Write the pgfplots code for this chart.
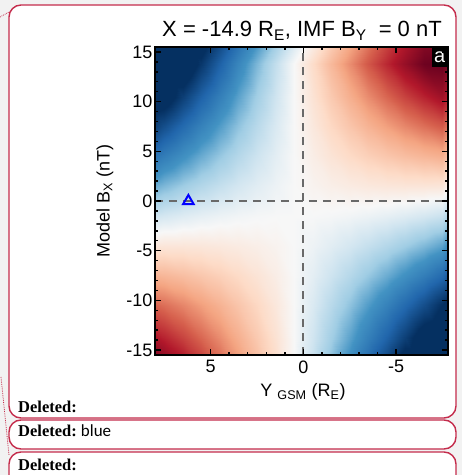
\documentclass[border=0pt]{standalone}
\usepackage{pgfplots}
\pgfplotsset{compat=1.18}
\usepackage{pgfplotstable}
\usepackage{fontspec}
\setmainfont{Liberation Sans}
\newfontfamily\docserif{Liberation Serif}
\newfontfamily\docsans{Carlito}

\definecolor{trackred}{RGB}{196,44,76}
\definecolor{pagegray}{RGB}{242,242,242}
\definecolor{refline}{RGB}{105,105,105}

% diverging red-white-blue colour table
\pgfplotsset{
  colormap={rdbu}{rgb255(0cm)=(103,0,31) rgb255(1.2cm)=(178,24,43) rgb255(2.2cm)=(214,96,77)
    rgb255(3.1cm)=(244,165,130) rgb255(4.2cm)=(253,219,199) rgb255(5cm)=(247,247,247)
    rgb255(5.6cm)=(209,229,240) rgb255(6.3cm)=(160,205,228) rgb255(7.1cm)=(67,147,195)
    rgb255(8.2cm)=(33,102,172) rgb255(9.3cm)=(5,48,97) rgb255(10cm)=(5,48,97)}
}

% Model B_x field on a Y_GSM x B_x grid (Y, Bx, value); colour scale saturates at +-100
\pgfplotstableread{
Y Bx f
8 -15.5 -100
7 -15.5 -97.7
6 -15.5 -85.1
5 -15.5 -72
4 -15.5 -58.5
3 -15.5 -44.5
2 -15.5 -30.1
1 -15.5 -15.3
0 -15.5 0
-1 -15.5 15.7
-2 -15.5 31.9
-3 -15.5 48.5
-4 -15.5 65.5
-5 -15.5 83
-6 -15.5 100
-7 -15.5 100
-8 -15.5 100
8 -12 -81.9
7 -12 -73.2
6 -12 -64.1
5 -12 -54.5
4 -12 -44.5
3 -12 -34
2 -12 -23.1
1 -12 -11.8
0 -12 0
-1 -12 12.2
-2 -12 24.9
-3 -12 38
-4 -12 51.5
-5 -12 65.5
-6 -12 79.9
-7 -12 94.8
-8 -12 100
8 -9 -57.9
7 -9 -52.2
6 -9 -46.1
5 -9 -39.5
4 -9 -32.5
3 -9 -25
2 -9 -17.1
1 -9 -8.8
0 -9 0
-1 -9 9.2
-2 -9 18.9
-3 -9 29
-4 -9 39.5
-5 -9 50.5
-6 -9 61.9
-7 -9 73.8
-8 -9 86.1
8 -6 -33.9
7 -6 -31.2
6 -6 -28.1
5 -6 -24.5
4 -6 -20.5
3 -6 -16
2 -6 -11.1
1 -6 -5.8
0 -6 0
-1 -6 6.2
-2 -6 12.9
-3 -6 20
-4 -6 27.5
-5 -6 35.5
-6 -6 43.9
-7 -6 52.8
-8 -6 62.1
8 -3 -9.9
7 -3 -10.2
6 -3 -10.1
5 -3 -9.5
4 -3 -8.5
3 -3 -7
2 -3 -5.1
1 -3 -2.8
0 -3 0
-1 -3 3.2
-2 -3 6.9
-3 -3 11
-4 -3 15.5
-5 -3 20.5
-6 -3 25.9
-7 -3 31.8
-8 -3 38.1
8 0 14.1
7 0 10.8
6 0 7.9
5 0 5.5
4 0 3.5
3 0 2
2 0 0.9
1 0 0.2
0 0 0
-1 0 0.2
-2 0 0.9
-3 0 2
-4 0 3.5
-5 0 5.5
-6 0 7.9
-7 0 10.8
-8 0 14.1
8 3 38.1
7 3 31.8
6 3 25.9
5 3 20.5
4 3 15.5
3 3 11
2 3 6.9
1 3 3.2
0 3 0
-1 3 -2.8
-2 3 -5.1
-3 3 -7
-4 3 -8.5
-5 3 -9.5
-6 3 -10.1
-7 3 -10.2
-8 3 -9.9
8 6 62.1
7 6 52.8
6 6 43.9
5 6 35.5
4 6 27.5
3 6 20
2 6 12.9
1 6 6.2
0 6 0
-1 6 -5.8
-2 6 -11.1
-3 6 -16
-4 6 -20.5
-5 6 -24.5
-6 6 -28.1
-7 6 -31.2
-8 6 -33.9
8 9 86.1
7 9 73.8
6 9 61.9
5 9 50.5
4 9 39.5
3 9 29
2 9 18.9
1 9 9.2
0 9 0
-1 9 -8.8
-2 9 -17.1
-3 9 -25
-4 9 -32.5
-5 9 -39.5
-6 9 -46.1
-7 9 -52.2
-8 9 -57.9
8 12 100
7 12 94.8
6 12 79.9
5 12 65.5
4 12 51.5
3 12 38
2 12 24.9
1 12 12.2
0 12 0
-1 12 -11.8
-2 12 -23.1
-3 12 -34
-4 12 -44.5
-5 12 -54.5
-6 12 -64.1
-7 12 -73.2
-8 12 -81.9
8 15.5 100
7 15.5 100
6 15.5 100
5 15.5 83
4 15.5 65.5
3 15.5 48.5
2 15.5 31.9
1 15.5 15.7
0 15.5 0
-1 15.5 -15.3
-2 15.5 -30.1
-3 15.5 -44.5
-4 15.5 -58.5
-5 15.5 -72
-6 15.5 -85.1
-7 15.5 -97.7
-8 15.5 -100
}\fieldtable

\begin{document}
\begin{tikzpicture}[x=1pt,y=1pt]
\useasboundingbox (0,0) rectangle (462,475);
% page background and comment balloons
\fill[pagegray] (0,0) rectangle (462,475);
\begin{scope}
\clip (0,0) rectangle (462,475);
\draw[trackred, line width=1.4pt, fill=white, rounded corners=12pt] (9,470) rectangle (456,57);
\draw[trackred, line width=1.4pt, fill=white, rounded corners=12pt] (9,55) rectangle (456,26);
\draw[trackred, line width=1.4pt, fill=white, rounded corners=12pt] (9,23) rectangle (456,-20);
\draw[trackred, densely dotted, line width=0.8pt] (0,458) -- (9,463);
\draw[trackred, densely dotted, line width=0.8pt] (1,98) -- (9,20);
\end{scope}

\node[anchor=base west, inner sep=0pt, font=\docserif\bfseries\fontsize{16.5}{18}\selectfont] at (18,63) {Deleted:};
\node[anchor=base west, inner sep=0pt, font=\docserif\bfseries\fontsize{16.5}{18}\selectfont] at (18,38) {Deleted:\ \docsans\mdseries\fontsize{17}{18}\selectfont blue};
\node[anchor=base west, inner sep=0pt, font=\docserif\bfseries\fontsize{16.5}{18}\selectfont] at (18,5) {Deleted:};

% panel title
\node[anchor=base, inner sep=0pt, font=\fontsize{22}{26}\selectfont] at (302,438)
  {X = -14.9 R\textsubscript{E}, IMF B\textsubscript{Y}\ \ = 0 nT};

\begin{axis}[
  at={(155pt,120pt)}, anchor=south west,
  width=293pt, height=308pt, scale only axis,
  x dir=reverse,
  xmin=-7.8, xmax=8, ymin=-15.5, ymax=15.5,
  enlargelimits=false,
  xtick={-5,0,5}, ytick={-15,-10,...,15},
  minor x tick num=4, minor y tick num=4,
  tick align=inside,
  major tick length=6pt, minor tick length=3pt,
  every tick/.style={black, line width=1.4pt},
  axis line style={black, line width=1.4pt},
  ticklabel style={font=\fontsize{18}{20}\selectfont},
  yticklabel style={xshift=1pt},
  xticklabel style={yshift=-2pt},
  /pgf/number format/assume math mode=true,
  xlabel={Y \textsubscript{GSM} (R\textsubscript{E})},
  ylabel={Model B\textsubscript{X} (nT)},
  label style={font=\fontsize{18}{20}\selectfont},
  xlabel style={at={(axis description cs:0.5,0)}, anchor=center, yshift=-37pt, xshift=1.5pt},
  ylabel style={at={(axis description cs:0,0.5)}, anchor=center, yshift=50pt},
  colormap name=rdbu,
  point meta min=-100, point meta max=100,
  axis on top,
  clip=true,
]
\addplot[matrix plot*, shader=interp, mesh/cols=17, point meta=explicit]
  table[x=Y, y=Bx, meta=f] {\fieldtable};
\addplot[refline, line width=1.8pt, dash pattern=on 8pt off 6pt] coordinates {(8,0) (-7.8,0)};
\addplot[refline, line width=1.8pt, dash pattern=on 8pt off 6pt] coordinates {(0,-15.5) (0,15.5)};
\addplot[only marks, mark=triangle, mark size=6pt, mark options={blue, line width=2pt}] coordinates {(6.2,0)};
\node[fill=black, text=white, anchor=north east, inner sep=0pt, minimum width=16pt, minimum height=20pt,
  font=\fontsize{20}{20}\selectfont] at (rel axis cs:1,1) {a};
\end{axis}
\end{tikzpicture}
\end{document}
